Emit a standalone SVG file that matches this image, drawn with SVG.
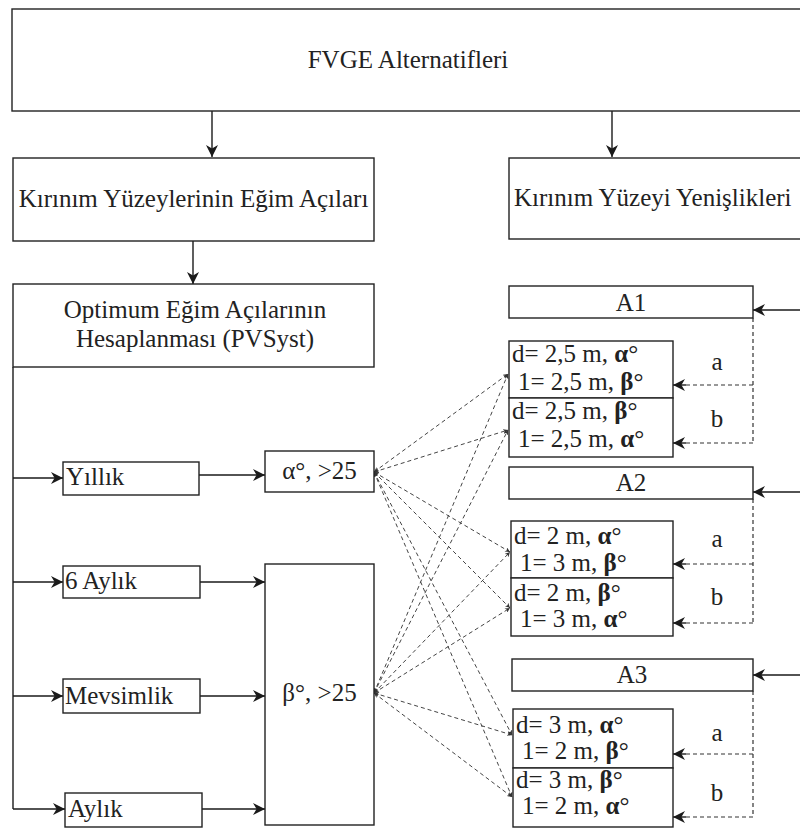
<svg xmlns="http://www.w3.org/2000/svg" width="800" height="828" viewBox="0 0 800 828">
<defs>
<marker id="ah" markerUnits="userSpaceOnUse" markerWidth="12" markerHeight="12" viewBox="0 0 10 10" refX="10" refY="5" orient="auto">
<path d="M0,0 L10,5 L0,10 L3,5 z" fill="#1a1a1a"/>
</marker>
<marker id="sm" markerUnits="userSpaceOnUse" markerWidth="5" markerHeight="5" viewBox="0 0 10 10" refX="10" refY="5" orient="auto-start-reverse">
<path d="M0,0 L10,5 L0,10 L3,5 z" fill="#333"/>
</marker>
<style>
.b{fill:#fff;stroke:#222;stroke-width:1.4}
.t{font-family:'Liberation Serif','Times New Roman',serif;font-size:25px;fill:#222}
.c{text-anchor:middle}
.s{stroke:#1a1a1a;stroke-width:1.4;fill:none}
.d{stroke:#333;stroke-width:1.2;fill:none;stroke-dasharray:4 3}
.x{stroke:#444;stroke-width:1;fill:none;stroke-dasharray:4 3}
.g{font-weight:bold}
</style>
</defs>
<rect width="800" height="828" fill="#fff"/>
<g id="connectors">
<line class="s" x1="212" y1="111" x2="212" y2="157" marker-end="url(#ah)"/>
<line class="s" x1="612" y1="111" x2="612" y2="157" marker-end="url(#ah)"/>
<line class="s" x1="193" y1="241" x2="193" y2="284" marker-end="url(#ah)"/>
<line class="s" x1="13" y1="367" x2="13" y2="809"/>
<line class="s" x1="13" y1="478" x2="63" y2="478" marker-end="url(#ah)"/>
<line class="s" x1="13" y1="582" x2="63" y2="582" marker-end="url(#ah)"/>
<line class="s" x1="13" y1="696" x2="63" y2="696" marker-end="url(#ah)"/>
<line class="s" x1="13" y1="809" x2="65" y2="809" marker-end="url(#ah)"/>
<line class="s" x1="199" y1="475" x2="265" y2="475" marker-end="url(#ah)"/>
<line class="s" x1="200" y1="582" x2="265" y2="582" marker-end="url(#ah)"/>
<line class="s" x1="200" y1="696" x2="265" y2="696" marker-end="url(#ah)"/>
<line class="s" x1="202" y1="809" x2="265" y2="809" marker-end="url(#ah)"/>
<line class="s" x1="800" y1="310" x2="753" y2="310" marker-end="url(#ah)"/>
<line class="s" x1="800" y1="492" x2="753" y2="492" marker-end="url(#ah)"/>
<line class="s" x1="800" y1="675" x2="753" y2="675" marker-end="url(#ah)"/>
<path class="d" d="M753,318 V443 M753,385 H685 M753,443 H685"/>
<line class="s" x1="686" y1="385" x2="673" y2="385" marker-end="url(#ah)" stroke-width="1.2"/>
<line class="s" x1="686" y1="443" x2="673" y2="443" marker-end="url(#ah)" stroke-width="1.2"/>
<path class="d" d="M753,499 V623 M753,564 H685 M753,623 H685"/>
<line class="s" x1="686" y1="564" x2="673" y2="564" marker-end="url(#ah)" stroke-width="1.2"/>
<line class="s" x1="686" y1="623" x2="673" y2="623" marker-end="url(#ah)" stroke-width="1.2"/>
<path class="d" d="M753,691 V817 M753,754 H685 M753,817 H685"/>
<line class="s" x1="686" y1="754" x2="673" y2="754" marker-end="url(#ah)" stroke-width="1.2"/>
<line class="s" x1="686" y1="817" x2="673" y2="817" marker-end="url(#ah)" stroke-width="1.2"/>
<line class="x" x1="374" y1="472" x2="508" y2="374" marker-start="url(#sm)" marker-end="url(#sm)"/>
<line class="x" x1="374" y1="472" x2="508" y2="430" marker-start="url(#sm)" marker-end="url(#sm)"/>
<line class="x" x1="374" y1="472" x2="510" y2="552" marker-start="url(#sm)" marker-end="url(#sm)"/>
<line class="x" x1="374" y1="472" x2="510" y2="608" marker-start="url(#sm)" marker-end="url(#sm)"/>
<line class="x" x1="374" y1="472" x2="512" y2="735" marker-start="url(#sm)" marker-end="url(#sm)"/>
<line class="x" x1="374" y1="472" x2="512" y2="797" marker-start="url(#sm)" marker-end="url(#sm)"/>
<line class="x" x1="374" y1="693" x2="508" y2="374" marker-start="url(#sm)" marker-end="url(#sm)"/>
<line class="x" x1="374" y1="693" x2="508" y2="430" marker-start="url(#sm)" marker-end="url(#sm)"/>
<line class="x" x1="374" y1="693" x2="510" y2="552" marker-start="url(#sm)" marker-end="url(#sm)"/>
<line class="x" x1="374" y1="693" x2="510" y2="608" marker-start="url(#sm)" marker-end="url(#sm)"/>
<line class="x" x1="374" y1="693" x2="512" y2="735" marker-start="url(#sm)" marker-end="url(#sm)"/>
<line class="x" x1="374" y1="693" x2="512" y2="797" marker-start="url(#sm)" marker-end="url(#sm)"/>
<text class="t c" x="717" y="370">a</text>
<text class="t c" x="717" y="427">b</text>
<text class="t c" x="717" y="547">a</text>
<text class="t c" x="717" y="605">b</text>
<text class="t c" x="717" y="741">a</text>
<text class="t c" x="717" y="801">b</text>
</g>

<g id="fvge"><rect class="b" x="12" y="9" width="800" height="102"/><text class="t c" x="408" y="68">FVGE Alternatifleri</text></g>
<g id="egim"><rect class="b" x="13" y="158" width="361" height="83"/><text class="t c" x="193.5" y="207">Kırınım Yüzeylerinin Eğim Açıları</text></g>
<g id="genislik"><rect class="b" x="509" y="158" width="310" height="81"/><text class="t" x="514" y="206">Kırınım Yüzeyi Yenişlikleri</text></g>
<g id="optimum"><rect class="b" x="13" y="284" width="361" height="83"/><text class="t c" x="195" y="318">Optimum Eğim Açılarının</text><text class="t c" x="195" y="347">Hesaplanması (PVSyst)</text></g>
<g id="yillik"><rect class="b" x="63" y="462" width="136" height="33"/><text class="t" x="66" y="485">Yıllık</text></g>
<g id="altiaylik"><rect class="b" x="63" y="566" width="137" height="32"/><text class="t" x="65" y="589">6 Aylık</text></g>
<g id="mevsimlik"><rect class="b" x="63" y="679" width="137" height="34"/><text class="t" x="65" y="704">Mevsimlik</text></g>
<g id="aylik"><rect class="b" x="65" y="793" width="137" height="34"/><text class="t" x="68" y="817">Aylık</text></g>
<g id="alpha"><rect class="b" x="265" y="451" width="109" height="41"/><text class="t c" x="319.5" y="479">α°, &gt;25</text></g>
<g id="beta"><rect class="b" x="265" y="564" width="109" height="261"/><text class="t c" x="319.5" y="701">β°, &gt;25</text></g>

<g id="A1"><rect class="b" x="509" y="286" width="244" height="32"/><text class="t c" x="631" y="311">A1</text></g>
<g id="A1a"><rect class="b" x="509" y="341" width="164" height="57"/><text class="t" x="512" y="362">d= 2,5 m, <tspan class="g">α</tspan>°</text><text class="t" x="518" y="390">1= 2,5 m, <tspan class="g">β</tspan>°</text></g>
<g id="A1b"><rect class="b" x="509" y="398" width="164" height="59"/><text class="t" x="512" y="419">d= 2,5 m, <tspan class="g">β</tspan>°</text><text class="t" x="518" y="447">1= 2,5 m, <tspan class="g">α</tspan>°</text></g>

<g id="A2"><rect class="b" x="509" y="467" width="244" height="32"/><text class="t c" x="631" y="491">A2</text></g>
<g id="A2a"><rect class="b" x="511" y="521" width="162" height="57"/><text class="t" x="514" y="544">d= 2 m, <tspan class="g">α</tspan>°</text><text class="t" x="520" y="571">1= 3 m, <tspan class="g">β</tspan>°</text></g>
<g id="A2b"><rect class="b" x="511" y="578" width="162" height="58"/><text class="t" x="514" y="601">d= 2 m, <tspan class="g">β</tspan>°</text><text class="t" x="520" y="627">1= 3 m, <tspan class="g">α</tspan>°</text></g>

<g id="A3"><rect class="b" x="512" y="659" width="241" height="32"/><text class="t c" x="632" y="683">A3</text></g>
<g id="A3a"><rect class="b" x="513" y="709" width="160" height="59"/><text class="t" x="516" y="733">d= 3 m, <tspan class="g">α</tspan>°</text><text class="t" x="522" y="759">1= 2 m, <tspan class="g">β</tspan>°</text></g>
<g id="A3b"><rect class="b" x="513" y="768" width="160" height="59"/><text class="t" x="516" y="788">d= 3 m, <tspan class="g">β</tspan>°</text><text class="t" x="522" y="814">1= 2 m, <tspan class="g">α</tspan>°</text></g>
</svg>
